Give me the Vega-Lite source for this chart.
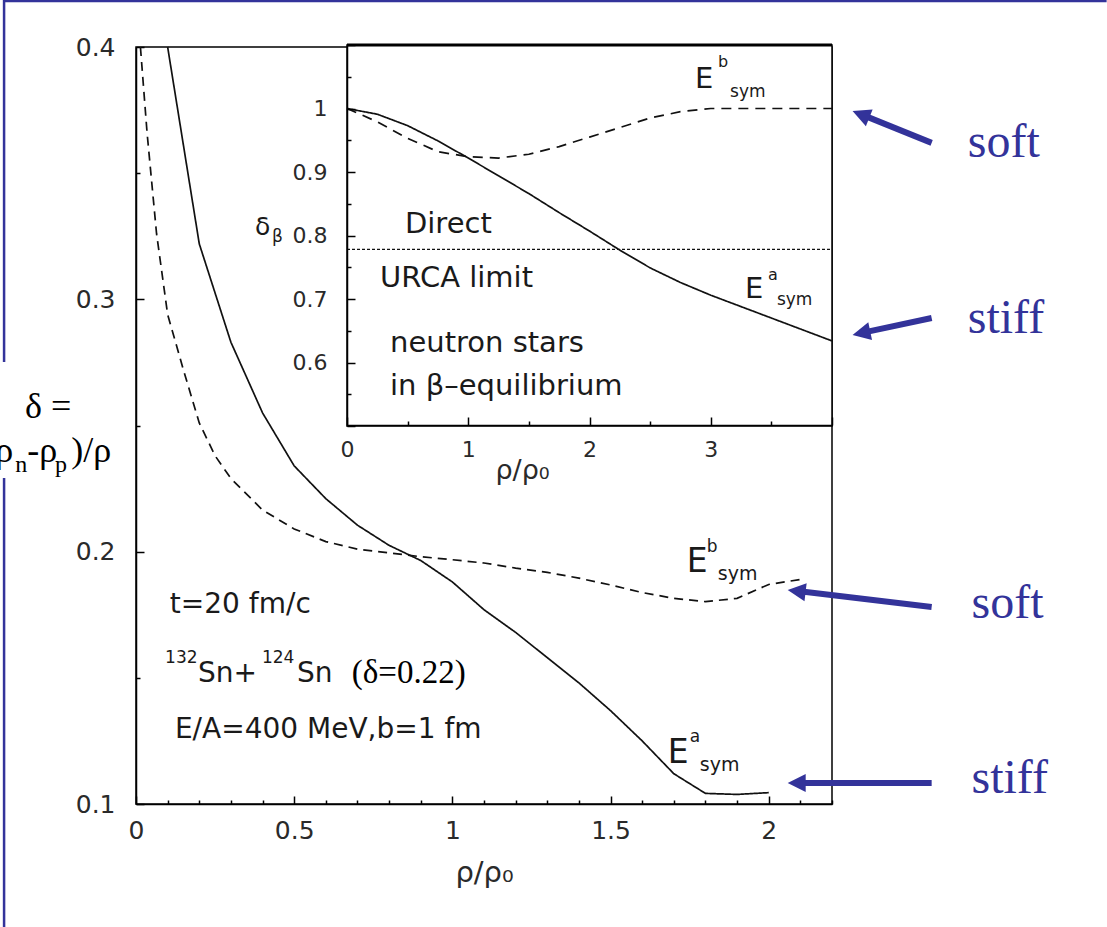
{
  "$schema": "https://vega.github.io/schema/vega-lite/v6.json",
  "autosize": {"type": "none"},
  "width": 696,
  "height": 757,
  "padding": {"left": 136, "top": 47, "right": 275, "bottom": 123},
  "background": "white",
  "config": {
    "view": {"stroke": "black", "strokeWidth": 1.5},
    "font": "DejaVu Sans",
    "axis": {
      "domainColor": "black", "domainWidth": 1.5,
      "tickColor": "black", "tickWidth": 1.5,
      "labelFont": "DejaVu Sans", "labelColor": "#2a2a2a",
      "labelFlush": false, "labelOverlap": false, "grid": false,
      "titleFont": "DejaVu Sans", "titleFontWeight": "normal", "titleColor": "#2a2a2a"
    },
    "text": {"font": "DejaVu Sans", "align": "left", "baseline": "alphabetic", "color": "#1a1a1a"}
  },
  "datasets": {
    "collision": [
      {"rho": 0.1, "delta": 0.400, "eos": "a"}, {"rho": 0.2, "delta": 0.322, "eos": "a"},
      {"rho": 0.3, "delta": 0.283, "eos": "a"}, {"rho": 0.4, "delta": 0.255, "eos": "a"},
      {"rho": 0.5, "delta": 0.234, "eos": "a"}, {"rho": 0.6, "delta": 0.221, "eos": "a"},
      {"rho": 0.7, "delta": 0.2105, "eos": "a"}, {"rho": 0.8, "delta": 0.2025, "eos": "a"},
      {"rho": 0.9, "delta": 0.1965, "eos": "a"}, {"rho": 1.0, "delta": 0.188, "eos": "a"},
      {"rho": 1.1, "delta": 0.177, "eos": "a"}, {"rho": 1.2, "delta": 0.168, "eos": "a"},
      {"rho": 1.3, "delta": 0.158, "eos": "a"}, {"rho": 1.4, "delta": 0.148, "eos": "a"},
      {"rho": 1.5, "delta": 0.137, "eos": "a"}, {"rho": 1.6, "delta": 0.125, "eos": "a"},
      {"rho": 1.7, "delta": 0.112, "eos": "a"}, {"rho": 1.8, "delta": 0.1042, "eos": "a"},
      {"rho": 1.9, "delta": 0.1038, "eos": "a"}, {"rho": 2.0, "delta": 0.1045, "eos": "a"},
      {"rho": 0.014, "delta": 0.400, "eos": "b"}, {"rho": 0.035, "delta": 0.366, "eos": "b"},
      {"rho": 0.065, "delta": 0.326, "eos": "b"}, {"rho": 0.1, "delta": 0.294, "eos": "b"},
      {"rho": 0.15, "delta": 0.272, "eos": "b"}, {"rho": 0.2, "delta": 0.251, "eos": "b"},
      {"rho": 0.25, "delta": 0.238, "eos": "b"}, {"rho": 0.3, "delta": 0.229, "eos": "b"},
      {"rho": 0.4, "delta": 0.2165, "eos": "b"}, {"rho": 0.5, "delta": 0.209, "eos": "b"},
      {"rho": 0.6, "delta": 0.204, "eos": "b"}, {"rho": 0.7, "delta": 0.201, "eos": "b"},
      {"rho": 0.8, "delta": 0.1995, "eos": "b"}, {"rho": 0.9, "delta": 0.198, "eos": "b"},
      {"rho": 1.0, "delta": 0.1968, "eos": "b"}, {"rho": 1.1, "delta": 0.1955, "eos": "b"},
      {"rho": 1.2, "delta": 0.1935, "eos": "b"}, {"rho": 1.3, "delta": 0.1918, "eos": "b"},
      {"rho": 1.4, "delta": 0.1895, "eos": "b"}, {"rho": 1.5, "delta": 0.1868, "eos": "b"},
      {"rho": 1.6, "delta": 0.1838, "eos": "b"}, {"rho": 1.7, "delta": 0.1815, "eos": "b"},
      {"rho": 1.8, "delta": 0.1802, "eos": "b"}, {"rho": 1.9, "delta": 0.1815, "eos": "b"},
      {"rho": 2.0, "delta": 0.187, "eos": "b"}, {"rho": 2.1, "delta": 0.189, "eos": "b"}
    ],
    "betaEquilibrium": [
      {"rho": 0, "delta": 1.0, "eos": "a"}, {"rho": 0.25, "delta": 0.991, "eos": "a"},
      {"rho": 0.5, "delta": 0.973, "eos": "a"}, {"rho": 0.75, "delta": 0.949, "eos": "a"},
      {"rho": 1.0, "delta": 0.922, "eos": "a"}, {"rho": 1.25, "delta": 0.894, "eos": "a"},
      {"rho": 1.5, "delta": 0.866, "eos": "a"}, {"rho": 1.75, "delta": 0.836, "eos": "a"},
      {"rho": 2.0, "delta": 0.807, "eos": "a"}, {"rho": 2.25, "delta": 0.777, "eos": "a"},
      {"rho": 2.5, "delta": 0.749, "eos": "a"}, {"rho": 2.75, "delta": 0.726, "eos": "a"},
      {"rho": 3.0, "delta": 0.706, "eos": "a"}, {"rho": 3.25, "delta": 0.688, "eos": "a"},
      {"rho": 3.5, "delta": 0.670, "eos": "a"}, {"rho": 3.75, "delta": 0.652, "eos": "a"},
      {"rho": 4.0, "delta": 0.634, "eos": "a"},
      {"rho": 0, "delta": 1.0, "eos": "b"}, {"rho": 0.25, "delta": 0.979, "eos": "b"},
      {"rho": 0.5, "delta": 0.953, "eos": "b"}, {"rho": 0.75, "delta": 0.932, "eos": "b"},
      {"rho": 1.0, "delta": 0.924, "eos": "b"}, {"rho": 1.25, "delta": 0.922, "eos": "b"},
      {"rho": 1.5, "delta": 0.928, "eos": "b"}, {"rho": 1.75, "delta": 0.940, "eos": "b"},
      {"rho": 2.0, "delta": 0.955, "eos": "b"}, {"rho": 2.25, "delta": 0.970, "eos": "b"},
      {"rho": 2.5, "delta": 0.985, "eos": "b"}, {"rho": 2.75, "delta": 0.995, "eos": "b"},
      {"rho": 3.0, "delta": 1.0, "eos": "b"}, {"rho": 3.5, "delta": 1.0, "eos": "b"},
      {"rho": 4.0, "delta": 1.0, "eos": "b"}
    ],
    "mainNotes": [
      {"rho": 0.107, "delta": 0.1757, "text": "t=20 fm/c", "kind": "body"},
      {"rho": 0.092, "delta": 0.1559, "text": "132", "kind": "sup"},
      {"rho": 0.196, "delta": 0.1484, "text": "Sn+", "kind": "body"},
      {"rho": 0.398, "delta": 0.1559, "text": "124", "kind": "sup"},
      {"rho": 0.509, "delta": 0.1484, "text": "Sn", "kind": "body"},
      {"rho": 0.123, "delta": 0.1262, "text": "E/A=400 MeV,b=1 fm", "kind": "body"},
      {"rho": 1.681, "delta": 0.1162, "text": "E", "kind": "E"},
      {"rho": 1.750, "delta": 0.1246, "text": "a", "kind": "sup"},
      {"rho": 1.782, "delta": 0.1131, "text": "sym", "kind": "sym"},
      {"rho": 1.741, "delta": 0.1919, "text": "E", "kind": "E"},
      {"rho": 1.804, "delta": 0.1999, "text": "b", "kind": "sup"},
      {"rho": 1.839, "delta": 0.1888, "text": "sym", "kind": "sym"}
    ],
    "serifNotes": [
      {"rho": 0.682, "delta": 0.148, "text": "(δ=0.22)", "kind": "paren"},
      {"rho": -0.351, "delta": 0.2530, "text": "δ =", "kind": "lab"},
      {"rho": -0.483, "delta": 0.2355, "text": "(ρ", "kind": "lab"},
      {"rho": -0.382, "delta": 0.2316, "text": "n", "kind": "labsub"},
      {"rho": -0.344, "delta": 0.2355, "text": "-ρ", "kind": "lab"},
      {"rho": -0.256, "delta": 0.2316, "text": "p", "kind": "labsub"},
      {"rho": -0.205, "delta": 0.2355, "text": ")/ρ", "kind": "lab"}
    ],
    "stiffness": [
      {"rho": 2.629, "delta": 0.3564, "text": "soft"},
      {"rho": 2.629, "delta": 0.2867, "text": "stiff"},
      {"rho": 2.641, "delta": 0.1737, "text": "soft"},
      {"rho": 2.641, "delta": 0.1044, "text": "stiff"}
    ],
    "pointers": [
      {"rho": 2.515, "delta": 0.362, "rho2": 2.300, "delta2": 0.3729, "tipRho": 2.265, "tipDelta": 0.3746, "ang": 292},
      {"rho": 2.515, "delta": 0.2926, "rho2": 2.302, "delta2": 0.2869, "tipRho": 2.265, "tipDelta": 0.2859, "ang": 258},
      {"rho": 2.515, "delta": 0.1781, "rho2": 2.098, "delta2": 0.1843, "tipRho": 2.060, "tipDelta": 0.1848, "ang": 277},
      {"rho": 2.515, "delta": 0.1083, "rho2": 2.098, "delta2": 0.1083, "tipRho": 2.060, "tipDelta": 0.1083, "ang": 270}
    ],
    "slideFrame": [
      {"rho": -0.417, "delta": 0.4186, "rho2": -0.417, "delta2": 0.2752},
      {"rho": -0.417, "delta": 0.2292, "rho2": -0.417, "delta2": 0.0513},
      {"rho": -0.417, "delta": 0.4182, "rho2": 3.068, "delta2": 0.4182}
    ],
    "insetNotes": [
      {"rho": 0.478, "delta": 0.804, "text": "Direct", "kind": "body"},
      {"rho": 0.272, "delta": 0.719, "text": "URCA limit", "kind": "body"},
      {"rho": 0.355, "delta": 0.617, "text": "neutron stars", "kind": "body"},
      {"rho": 0.355, "delta": 0.549, "text": "in β–equilibrium", "kind": "body"},
      {"rho": 2.870, "delta": 1.032, "text": "E", "kind": "E"},
      {"rho": 3.060, "delta": 1.065, "text": "b", "kind": "sup"},
      {"rho": 3.159, "delta": 1.018, "text": "sym", "kind": "sym"},
      {"rho": 3.282, "delta": 0.702, "text": "E", "kind": "E"},
      {"rho": 3.472, "delta": 0.730, "text": "a", "kind": "sup"},
      {"rho": 3.546, "delta": 0.691, "text": "sym", "kind": "sym"},
      {"rho": -0.759, "delta": 0.801, "text": "δ", "kind": "delta"},
      {"rho": -0.619, "delta": 0.790, "text": "β", "kind": "beta"}
    ]
  },
  "layer": [
    {
      "encoding": {
        "x": {
          "field": "rho", "type": "quantitative",
          "scale": {"domain": [0, 2.2], "nice": false, "zero": false},
          "axis": {
            "orient": "bottom",
            "values": [0, 0.1, 0.2, 0.3, 0.4, 0.5, 0.6, 0.7, 0.8, 0.9, 1, 1.1, 1.2, 1.3, 1.4, 1.5, 1.6, 1.7, 1.8, 1.9, 2, 2.1, 2.2],
            "labelExpr": "abs(datum.value*2 - round(datum.value*2)) < 1e-6 && datum.value < 2.1 ? format(datum.value, '~g') : ''",
            "tickSize": {"condition": {"test": "abs(datum.value*2 - round(datum.value*2)) < 1e-6", "value": -8}, "value": -4},
            "labelFontSize": 25, "labelPadding": 22,
            "title": "ρ/ρ₀", "titleFontSize": 29, "titlePadding": 11
          }
        },
        "y": {
          "field": "delta", "type": "quantitative",
          "scale": {"domain": [0.1, 0.4], "nice": false, "zero": false},
          "axis": {
            "orient": "left",
            "values": [0.1, 0.15, 0.2, 0.25, 0.3, 0.35, 0.4],
            "labelExpr": "abs(datum.value*10 - round(datum.value*10)) < 1e-6 ? format(datum.value, '~g') : ''",
            "tickSize": {"condition": {"test": "abs(datum.value*10 - round(datum.value*10)) < 1e-6", "value": -8}, "value": -4},
            "labelFontSize": 25, "labelPadding": 29,
            "title": null
          }
        }
      },
      "layer": [
        {
          "data": {"name": "collision"},
          "mark": {"type": "line", "color": "#111", "strokeWidth": 1.7},
          "encoding": {
            "strokeDash": {"field": "eos", "type": "nominal", "scale": {"domain": ["a", "b"], "range": [[1, 0], [9, 6]]}, "legend": null}
          }
        },
        {
          "data": {"name": "mainNotes"},
          "mark": {"type": "text"},
          "encoding": {
            "text": {"field": "text"},
            "size": {"field": "kind", "type": "nominal", "scale": {"type": "ordinal", "domain": ["body", "sup", "E", "sym"], "range": [28, 17, 33, 19]}, "legend": null}
          }
        },
        {
          "data": {"name": "serifNotes"},
          "mark": {"type": "text", "font": "Liberation Serif", "color": "black"},
          "encoding": {
            "text": {"field": "text"},
            "size": {"field": "kind", "type": "nominal", "scale": {"type": "ordinal", "domain": ["paren", "lab", "labsub"], "range": [33, 36, 24]}, "legend": null}
          }
        },
        {
          "data": {"name": "stiffness"},
          "mark": {"type": "text", "font": "Liberation Serif", "fontSize": 48, "color": "#33339a"},
          "encoding": {"text": {"field": "text"}}
        },
        {
          "data": {"name": "pointers"},
          "mark": {"type": "rule", "color": "#33339a", "strokeWidth": 6},
          "encoding": {"x2": {"field": "rho2"}, "y2": {"field": "delta2"}}
        },
        {
          "data": {"name": "pointers"},
          "mark": {"type": "point", "shape": "M0,0L0.75,1.5L-0.75,1.5Z", "filled": true, "size": 576, "color": "#33339a", "opacity": 1, "strokeWidth": 0},
          "encoding": {
            "x": {"field": "tipRho", "type": "quantitative"},
            "y": {"field": "tipDelta", "type": "quantitative"},
            "angle": {"field": "ang", "type": "quantitative", "scale": null}
          }
        },
        {
          "data": {"name": "slideFrame"},
          "mark": {"type": "rule", "color": "#33339a", "strokeWidth": 2.5},
          "encoding": {"x2": {"field": "rho2"}, "y2": {"field": "delta2"}}
        }
      ],
      "resolve": {"scale": {"size": "independent"}}
    },
    {
      "encoding": {
        "x": {
          "field": "rho", "type": "quantitative",
          "scale": {"domain": [0, 4], "range": [211, 696], "nice": false, "zero": false},
          "axis": {
            "orient": "bottom", "offset": -379, "zindex": 1,
            "values": [0, 0.5, 1, 1.5, 2, 2.5, 3, 3.5, 4],
            "labelExpr": "abs(datum.value - round(datum.value)) < 1e-6 && datum.value < 3.5 ? format(datum.value, 'd') : ''",
            "tickSize": {"condition": {"test": "abs(datum.value - round(datum.value)) < 1e-6", "value": -8}, "value": -4},
            "labelFontSize": 22, "labelPadding": 22,
            "title": "ρ/ρ₀", "titleFontSize": 27, "titleX": 386, "titleY": 53,
            "titleAlign": "center", "titleBaseline": "alphabetic", "titleAnchor": null
          }
        },
        "y": {
          "field": "delta", "type": "quantitative",
          "scale": {"domain": [0.5, 1.1], "range": [379, -2], "nice": false, "zero": false},
          "axis": {
            "orient": "left", "offset": -211, "zindex": 1,
            "values": [0.5, 0.55, 0.6, 0.65, 0.7, 0.75, 0.8, 0.85, 0.9, 0.95, 1, 1.05, 1.1],
            "labelExpr": "abs(datum.value*10 - round(datum.value*10)) < 1e-6 && datum.value > 0.55 && datum.value < 1.05 ? format(datum.value, '~g') : ''",
            "tickSize": {"condition": {"test": "abs(datum.value*10 - round(datum.value*10)) < 1e-6", "value": -8}, "value": -4},
            "labelFontSize": 22, "labelPadding": 28,
            "title": null
          }
        }
      },
      "layer": [
        {
          "data": {"values": [{"rho": 0, "rho2": 4, "delta": 0.5, "delta2": 1.1}]},
          "mark": {"type": "rect", "fill": "white", "stroke": "black", "strokeWidth": 1.5},
          "encoding": {"x2": {"field": "rho2"}, "y2": {"field": "delta2"}}
        },
        {
          "data": {"values": [{"rho": 0, "rho2": 4, "delta": 1.1}]},
          "mark": {"type": "rule", "color": "black", "strokeWidth": 3},
          "encoding": {"x2": {"field": "rho2"}}
        },
        {
          "data": {"values": [{"rho": 0, "rho2": 4, "delta": 0.778}]},
          "mark": {"type": "rule", "color": "#111", "strokeWidth": 1.3, "strokeDash": [3, 2]},
          "encoding": {"x2": {"field": "rho2"}}
        },
        {
          "data": {"name": "betaEquilibrium"},
          "mark": {"type": "line", "color": "#111", "strokeWidth": 1.7},
          "encoding": {
            "strokeDash": {"field": "eos", "type": "nominal", "scale": {"domain": ["a", "b"], "range": [[1, 0], [10, 7]]}, "legend": null}
          }
        },
        {
          "data": {"name": "insetNotes"},
          "mark": {"type": "text"},
          "encoding": {
            "text": {"field": "text"},
            "size": {"field": "kind", "type": "nominal", "scale": {"type": "ordinal", "domain": ["body", "sup", "E", "sym", "delta", "beta"], "range": [29, 16, 29, 17, 25, 17]}, "legend": null}
          }
        }
      ]
    }
  ],
  "resolve": {"scale": {"x": "independent", "y": "independent", "strokeDash": "independent", "size": "independent"}}
}
